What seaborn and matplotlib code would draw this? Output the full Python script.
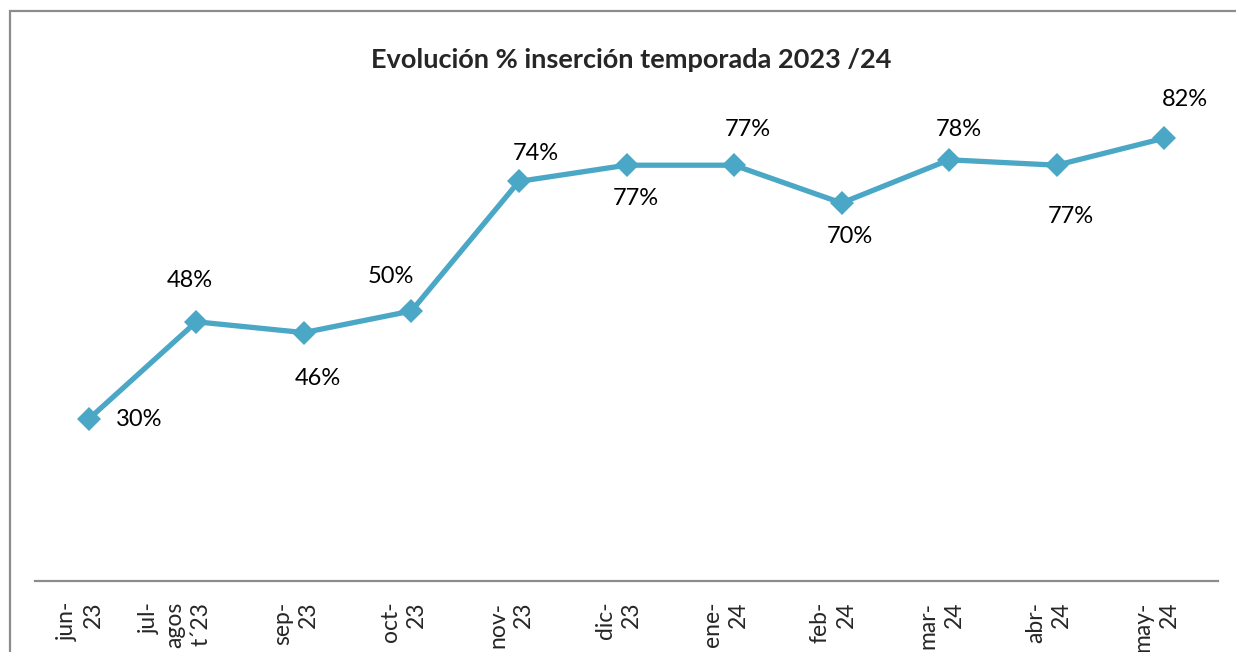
import matplotlib
matplotlib.use('Agg')
import matplotlib.pyplot as plt
from matplotlib.patches import Rectangle
import seaborn as sns
import pandas as pd

# ── data ─────────────────────────────────────────────────────────────────────
months = ['jun-\n23', 'jul-\nagos\nt´23', 'sep-\n23', 'oct-\n23', 'nov-\n23',
          'dic-\n23', 'ene-\n24', 'feb-\n24', 'mar-\n24', 'abr-\n24', 'may-\n24']
insercion = [30, 48, 46, 50, 74, 77, 77, 70, 78, 77, 82]
# label offsets (points) relative to each marker
label_dx = [36, -5, 10, -15, 12, 7, 10, 6, 7, 10, 15]
label_dy = [0, 30, -33, 25, 20, -24, 26, -24, 22, -37, 28]

df = pd.DataFrame({'mes': months, 'pct': insercion})

sns.set_theme(style='white')
plt.rcParams['font.family'] = ['Lato', 'DejaVu Sans']
LINE = '#4BA7C6'

fig = plt.figure(figsize=(12.36, 6.52), dpi=100)
ax = fig.add_axes([35/1236, 1 - 581/652, (1218-35)/1236, (581-41)/652])

sns.lineplot(data=df, x='mes', y='pct', sort=False, ax=ax, color=LINE,
             lw=3.8, marker='D', markersize=12, markeredgewidth=0)

for i, (v, dx, dy) in enumerate(zip(insercion, label_dx, label_dy)):
    ax.annotate(f'{v}%', (i, v), xytext=(dx, dy), textcoords='offset points',
                ha='center', va='center', fontsize=17, color='black')

ax.set_xlim(-0.5, len(months) - 0.5)
ax.set_ylim(0, 100)
ax.set_yticks([])
ax.set_xlabel(''); ax.set_ylabel('')
ax.set_xticks(range(len(months)))
ax.set_xticklabels([])
ax.tick_params(axis='x', length=0)
# month labels: rotated, lines right-aligned (Excel style)
for i, m in enumerate(months):
    ax.annotate(m, (i, 0), xycoords=('data', 'axes fraction'),
                xytext=(11, -15), textcoords='offset points',
                rotation=90, ha='right', va='top', multialignment='right',
                linespacing=1.3, fontsize=16.5, annotation_clip=False)
for s in ['top', 'right', 'left']:
    ax.spines[s].set_visible(False)
ax.spines['bottom'].set_color('#8c8c8c')
ax.spines['bottom'].set_linewidth(1.6)

fig.text(631/1236, 1 - 60/652, 'Evolución % inserción temporada 2023 /24',
         ha='center', va='center', fontsize=19.5, fontweight='bold')

# chart frame
fig.patches.append(Rectangle((10/1236, -0.1), 1.2, 1 - 11/652 + 0.1,
                             transform=fig.transFigure, fill=False,
                             edgecolor='#8c8c8c', lw=1.6, clip_on=False))

plt.savefig('out.png', dpi=100)
